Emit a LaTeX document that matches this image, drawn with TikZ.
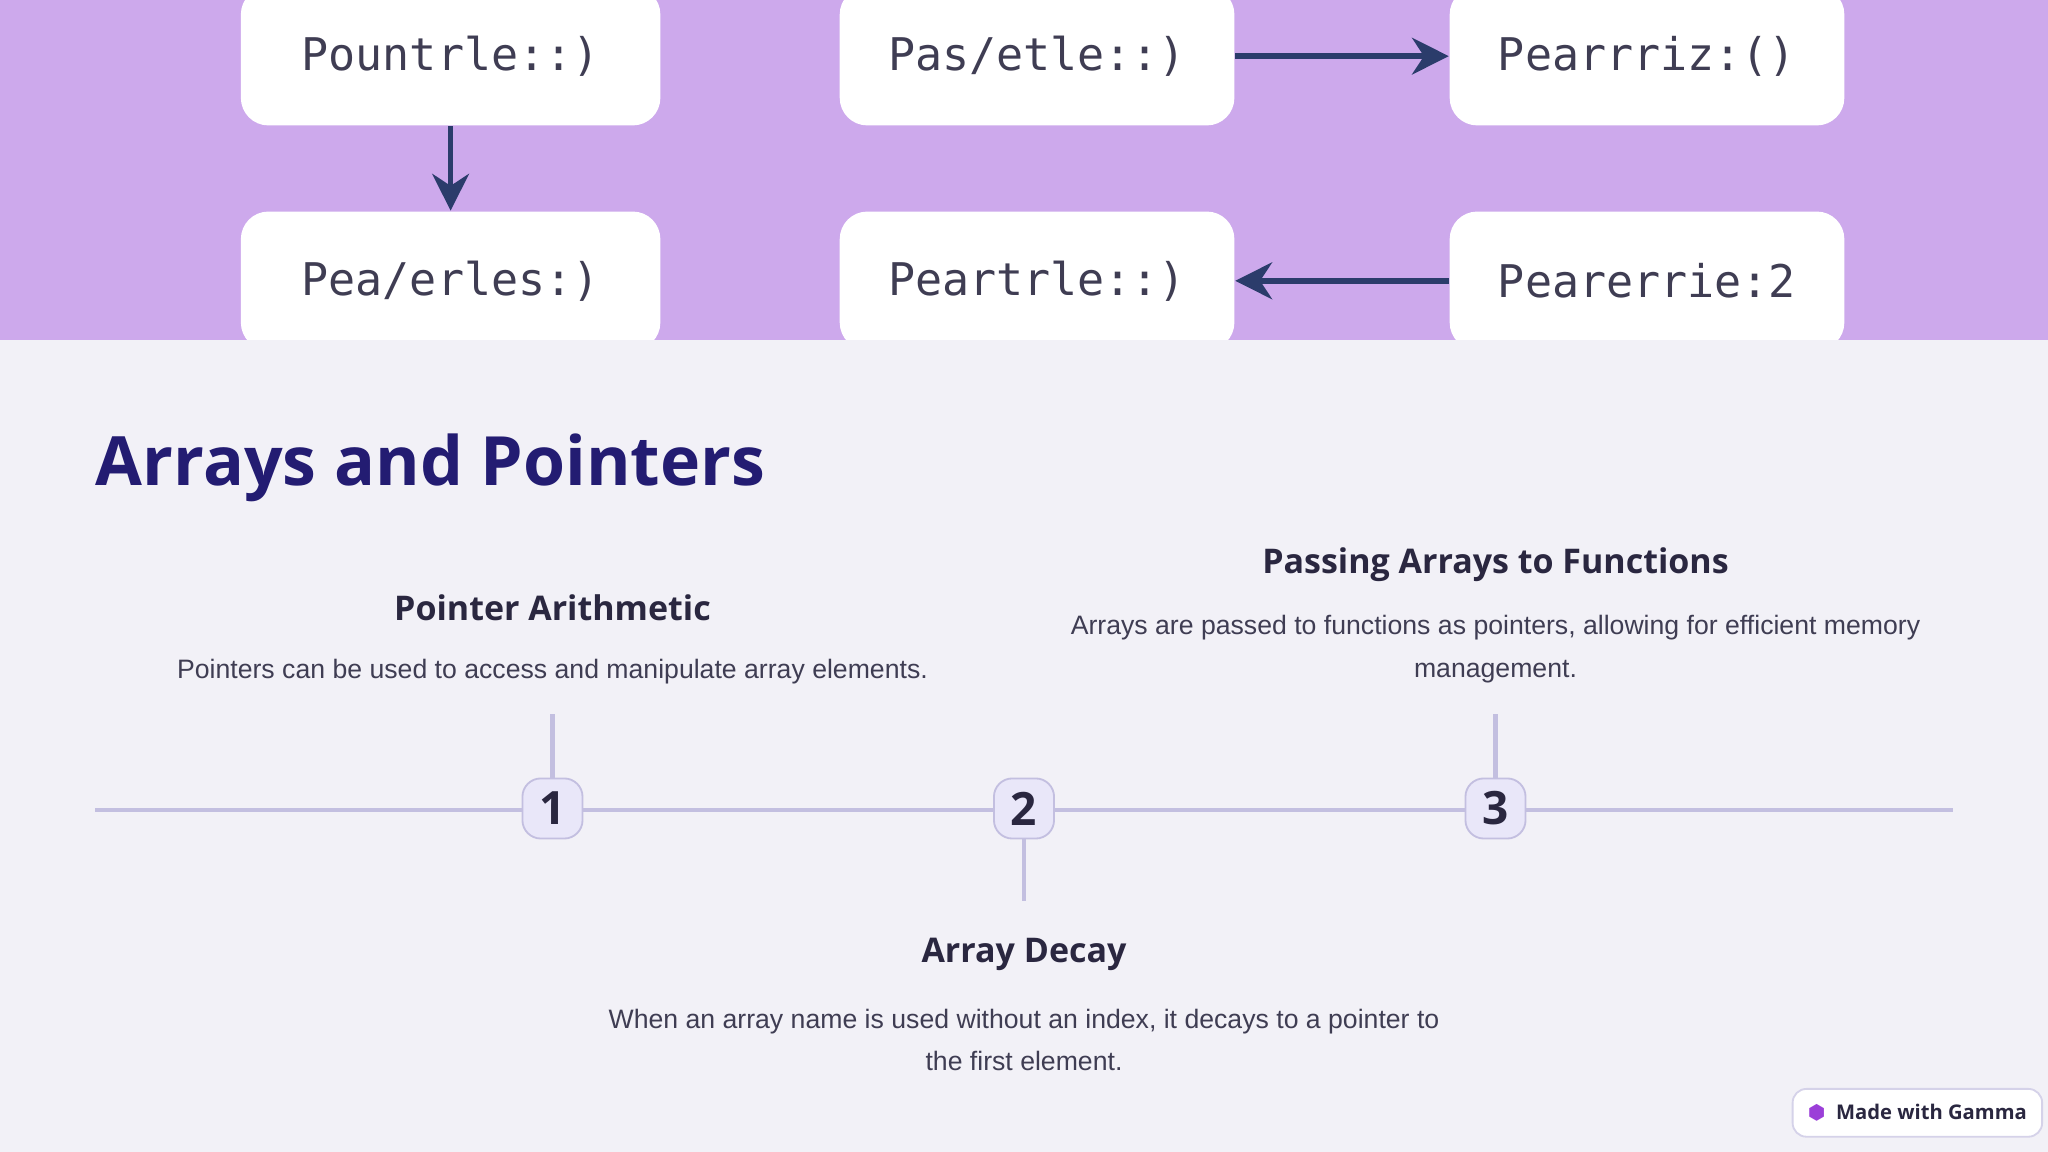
\documentclass[tikz,border=0pt]{standalone}
\usepackage{fontspec}
\setmainfont{Liberation Sans}
\newfontfamily\headfont{Open Sans}
\newfontfamily\monofont{DejaVu Sans Mono}
\newfontfamily\symfont{DejaVu Sans}
\usetikzlibrary{arrows.meta}
\definecolor{topbg}{HTML}{CDA9EC}
\definecolor{botbg}{HTML}{F2F1F7}
\definecolor{navy}{HTML}{2B3C6B}
\definecolor{titlec}{HTML}{231C72}
\definecolor{headc}{HTML}{2A2740}
\definecolor{linec}{HTML}{C3BFE0}
\definecolor{numfill}{HTML}{E9E7F9}
\definecolor{gam}{HTML}{9B3FD8}
\tikzset{
 codebox/.style={draw=none,fill=white,rounded corners=6,minimum width=3.2cm,minimum height=1.06cm,font=\monofont\fontsize{9.8}{10}\selectfont,text=headc!90},
 flow/.style={navy,line width=1.2pt,-{Stealth[length=8pt,width=8pt]}},
 numbox/.style={draw=linec,fill=numfill,rounded corners=4,minimum size=0.46cm,inner sep=0,font=\headfont\bfseries\fontsize{10}{10}\selectfont,text=headc},
 head/.style={font=\headfont\bfseries\fontsize{7.4}{9}\selectfont,text=headc},
 body/.style={font=\fontsize{5.8}{9.2}\selectfont,text=headc!90,align=center},
 tl/.style={linec,line width=0.9pt}
}
\begin{document}
\begin{tikzpicture}[x=0.01cm,y=-0.01cm]
\useasboundingbox (0,0) rectangle (1568,882);
\fill[botbg] (0,0) rectangle (1568,882);
\fill[topbg] (0,0) rectangle (1568,260);
\begin{scope}
\clip (0,0) rectangle (1568,260);
\node[codebox,minimum width=3.21cm] (a) at (345,43) {Pountrle::)};
\node[codebox,minimum width=3.02cm] (b) at (794,43) {Pas/etle::)};
\node[codebox,minimum width=3.02cm] (c) at (1261,43) {Pearrriz:()};
\node[codebox,minimum width=3.21cm] (d) at (345,215) {Pea/erles:)};
\node[codebox,minimum width=3.02cm] (e) at (794,215) {Peartrle::)};
\node[codebox,minimum width=3.02cm] (f) at (1261,215) {Pearerrie:2};
\end{scope}
\draw[flow] (a.south) -- (d.north);
\draw[flow] (b.east) -- (c.west);
\draw[flow] (f.west) -- (e.east);
\node[anchor=west,font=\headfont\bfseries\fontsize{14.8}{16}\selectfont,text=titlec] (title) at (61,358) {Arrays and Pointers};
\coordinate (tl0) at (73,620); \coordinate (tl1) at (1495,620);
\draw[tl] (tl0) -- (tl1);
\node[numbox] (n1) at (423,619) {1};
\node[numbox] (n2) at (784,619) {2};
\node[numbox] (n3) at (1145,619) {3};
\coordinate (t1) at (423,547); \coordinate (t2) at (784,690); \coordinate (t3) at (1145,547);
\draw[tl] (t1) -- (n1.north);
\draw[tl] (n2.south) -- (t2);
\draw[tl] (t3) -- (n3.north);
\node[head] (h1) at (423,465) {Pointer Arithmetic};
\node[body] (b1) at (423,514) {Pointers can be used to access and manipulate array elements.};
\node[head] (h3) at (1145,432) {Passing Arrays to Functions};
\node[body] (b3) at (1145,497) {Arrays are passed to functions as pointers, allowing for efficient memory\\management.};
\node[head] (h2) at (784,731) {Array Decay};
\node[body] (b2) at (784,796) {When an array name is used without an index, it decays to a pointer to\\the first element.};
\node[draw=linec!70,fill=white,rounded corners=3,minimum width=1.7cm,minimum height=0.31cm,font=\headfont\fontsize{4.4}{5}\selectfont\bfseries,text=headc] (badge) at (1468,852) {{\symfont\textcolor{gam}{⬢}}\ \ Made with Gamma};
\end{tikzpicture}
\end{document}
